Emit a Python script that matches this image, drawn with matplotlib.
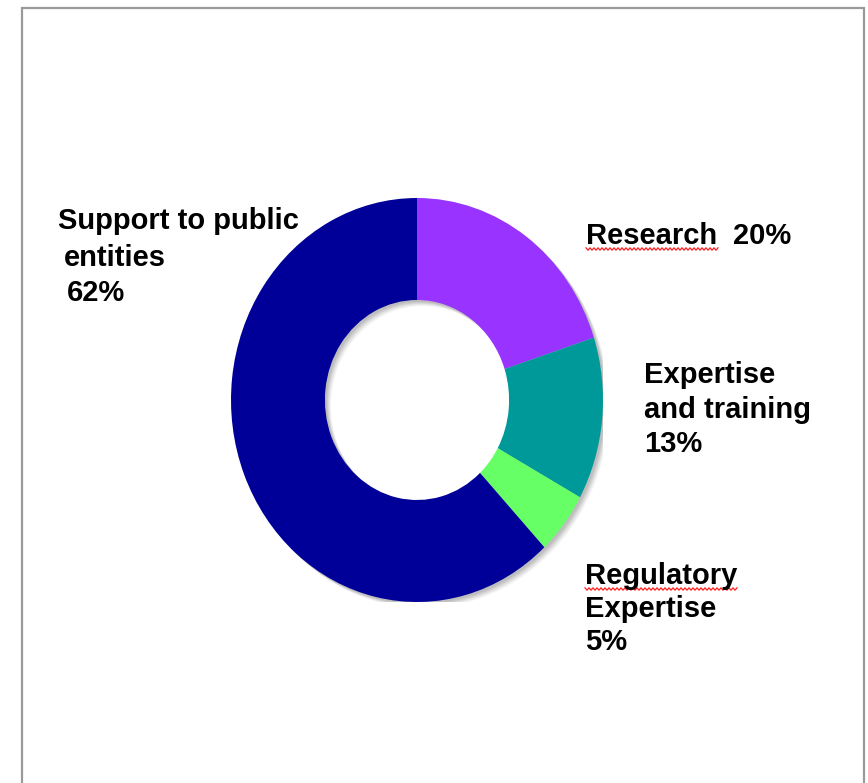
import numpy as np
import matplotlib
matplotlib.use("Agg")
import matplotlib.pyplot as plt
from matplotlib.patches import Wedge, Rectangle
from matplotlib.lines import Line2D

# data (clockwise from 12 o'clock)
categories = ['Research', 'Expertise and training', 'Regulatory Expertise', 'Support to public entities']
values = [20, 13, 5, 62]
colors = ['#9933FF', '#009999', '#66FF66', '#000099']

W, H = 868, 783
fig = plt.figure(figsize=(W / 100, H / 100), dpi=100)
fig.patch.set_facecolor('white')


def fx(x):
    return x / W


def fy(y):
    return 1 - y / H


# outer frame
fig.patches.append(Rectangle((fx(22), fy(790)), fx(864) - fx(22), fy(8) - fy(790),
                             transform=fig.transFigure, fill=False,
                             edgecolor='#9a9a9a', linewidth=1.6))

# donut axes (slightly taller than wide, like the original)
ax = fig.add_axes([fx(231), fy(602), (603 - 231) / W, (602 - 198) / H])

# soft shadow under the ring
for k, a in zip([6, 5, 4, 3, 2], [0.07, 0.09, 0.11, 0.13, 0.15]):
    ax.add_patch(Wedge((k / 186, -k / 202), 1.0, 0, 360, width=0.505,
                       facecolor='#707070', edgecolor='none', alpha=a))

ax.pie(values, colors=colors, startangle=90, counterclock=False,
       wedgeprops=dict(width=0.505, edgecolor='none'))
ax.set_aspect('auto')
ax.set_xlim(-1, 1)
ax.set_ylim(-1, 1)
ax.axis('off')

pct = {c: f"{v}%" for c, v in zip(categories, values)}

# label lines: (text, left x, baseline y) in pixels
lines = [
    ("Support to public", 58, 229),
    ("entities", 64, 266),
    (pct['Support to public entities'], 67, 301),
    ("Research", 586, 244),
    (pct['Research'], 733, 244),
    ("Expertise", 644, 383),
    ("and training", 644, 418),
    (pct['Expertise and training'], 644, 452),
    ("Regulatory", 585, 584),
    ("Expertise", 585, 617),
    (pct['Regulatory Expertise'], 585, 650),
]
for txt, x, y in lines:
    fig.text(fx(x), fy(y), txt, ha='left', va='baseline',
             fontsize=21, fontweight='bold', family='Liberation Sans', color='black')


# red spell-check squiggles
def squiggle(x0, x1, y):
    xs = np.arange(x0, x1 + 0.1, 2.0)
    ys = y + np.where(np.arange(len(xs)) % 2 == 0, -1.2, 1.2)
    fig.lines.append(Line2D(fx(xs), fy(ys), transform=fig.transFigure,
                            color='#ff2020', linewidth=0.9))


squiggle(586, 718, 249)
squiggle(585, 737, 589)

fig.savefig('out.png', dpi=100, facecolor='white')
